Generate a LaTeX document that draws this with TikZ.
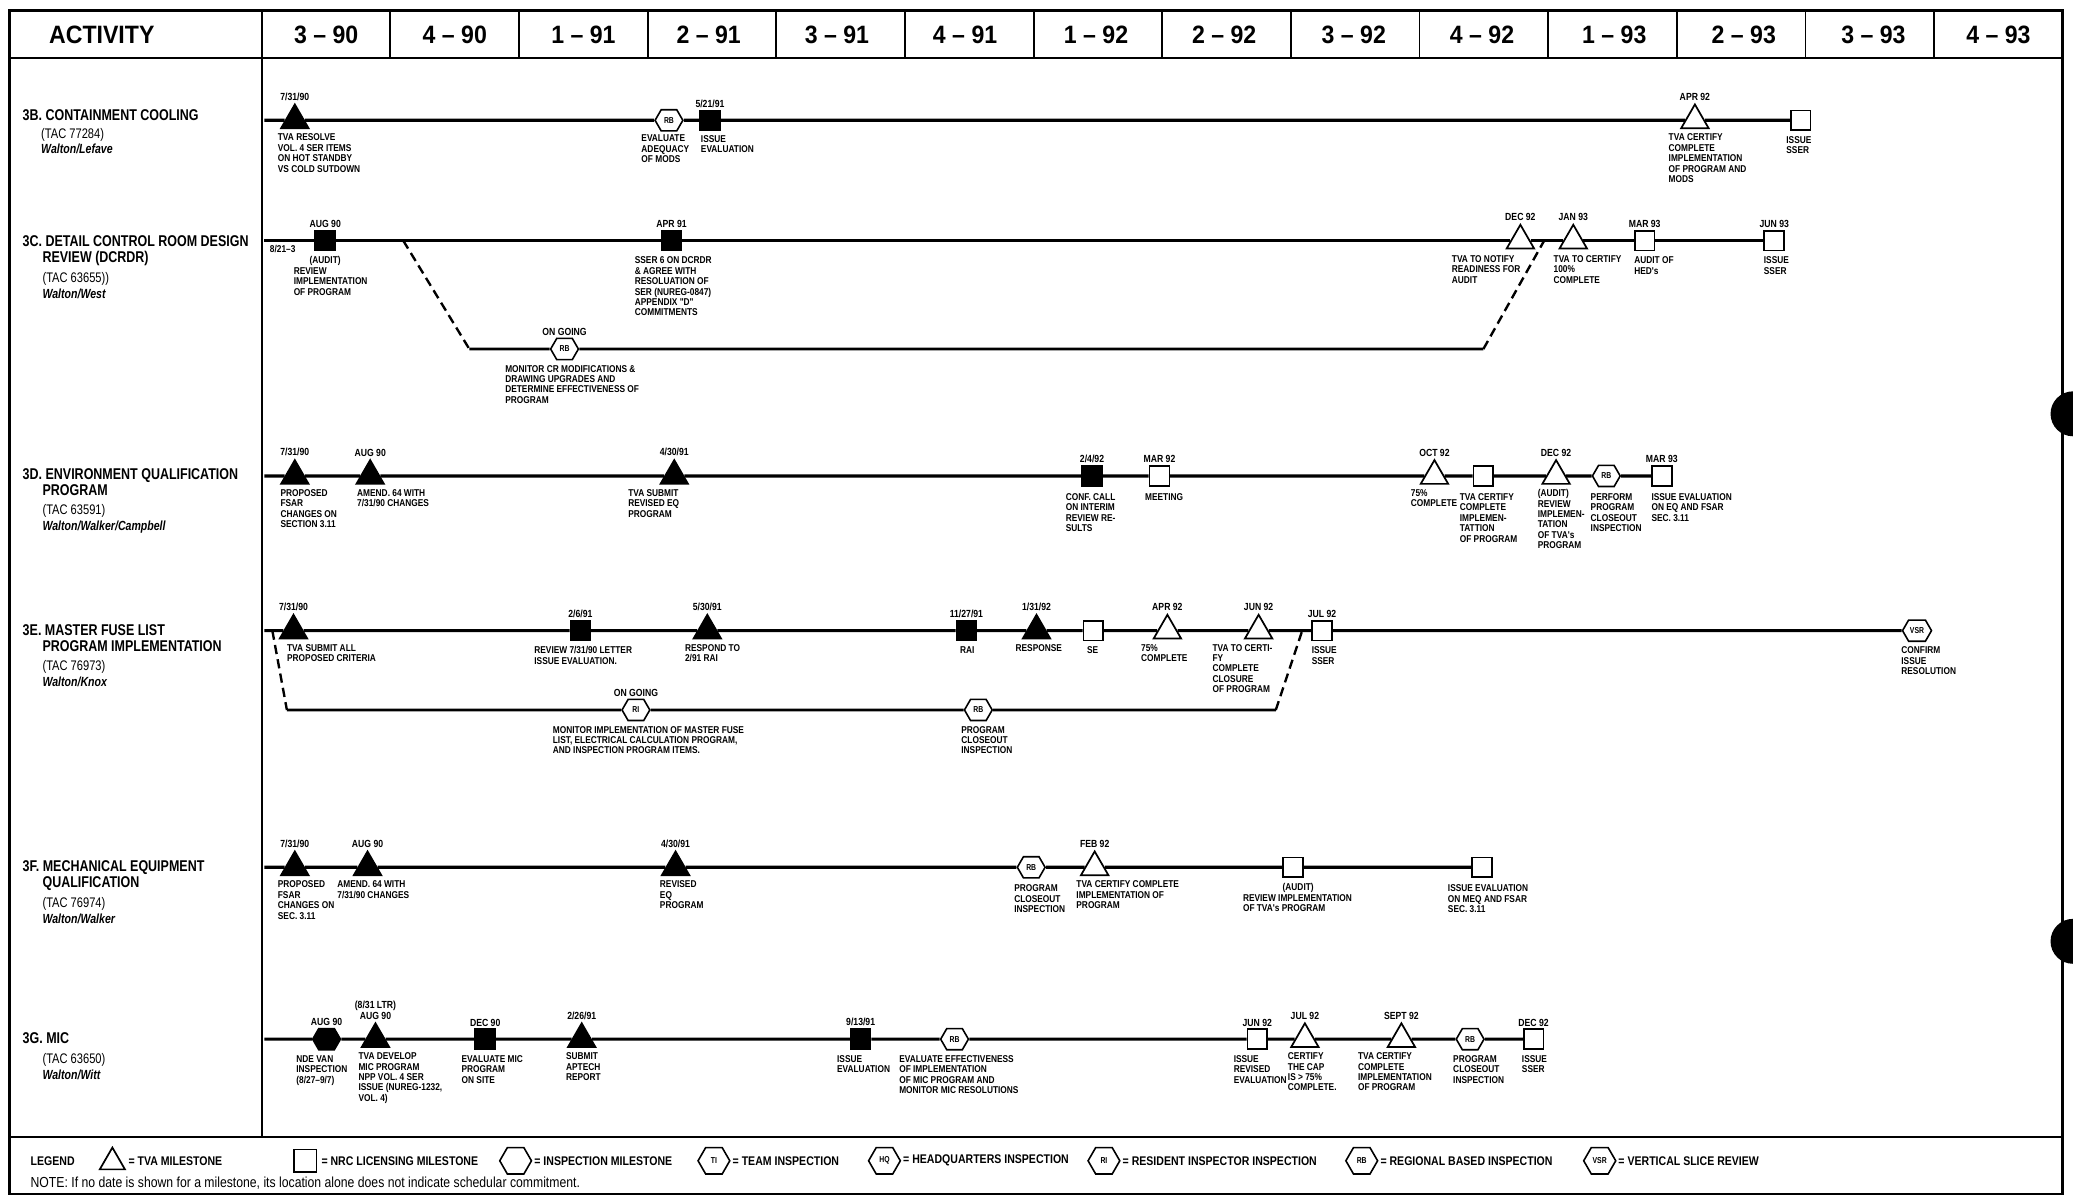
\documentclass[tikz,border=0pt]{standalone}
\usepackage{fontspec}
\setmainfont{Liberation Sans}
\newfontfamily\condf[FakeStretch=0.8]{Liberation Sans}
\newfontfamily\condl[FakeStretch=0.84]{Liberation Sans}
\newfontfamily\condh[FakeStretch=0.92]{Liberation Sans}
\usetikzlibrary{shapes.geometric,shapes.symbols,positioning}

\newcommand\lblfont{\condl\bfseries\fontsize{7.5}{7.9}\selectfont}
\newcommand\dtefont{\condl\bfseries\fontsize{7.8}{8.4}\selectfont}
\newcommand\hexfont{\condf\bfseries\fontsize{6.5}{7}\selectfont}
\newcommand\hdrfont{\condh\bfseries\fontsize{19}{22}\selectfont}
\newcommand\ttlfont{\condf\bfseries\fontsize{11.8}{12}\selectfont}
\newcommand\tacfont{\condf\fontsize{10.5}{12}\selectfont}
\newcommand\whofont{\condf\bfseries\itshape\fontsize{10}{12}\selectfont}
\newcommand\lgdfont{\condl\bfseries\fontsize{9.5}{10}\selectfont}
\newcommand\notefont{\condl\fontsize{11}{12}\selectfont}

\tikzset{
  tva/.style={regular polygon, regular polygon sides=3, draw, line width=1.3pt,
    fill=white, minimum size=24pt, inner sep=0pt},
  tvaf/.style={tva, fill=black},
  nrc/.style={rectangle, draw, line width=1.3pt, fill=white, minimum size=15pt, inner sep=0pt},
  nrcf/.style={nrc, fill=black},
  insp/.style={signal, signal to=east and west, signal pointer angle=120, draw,
    line width=1.2pt, fill=white, minimum width=21pt, minimum height=16pt,
    inner sep=1pt, font=\hexfont},
  bighex/.style={insp, minimum width=24pt, minimum height=20pt},
  dte/.style={font=\dtefont, inner sep=1.5pt},
  lbl/.style={font=\lblfont, align=left, anchor=north west, inner sep=0pt},
  hdr/.style={font=\hdrfont, inner sep=0pt},
  ttl/.style={font=\tacfont, align=left, anchor=north west, inner sep=0pt},
  lgd/.style={font=\lgdfont, anchor=west, inner sep=0pt},
  tline/.style={line width=2.4pt},
  dline/.style={line width=1.8pt, dash pattern=on 7pt off 4pt},
}

\begin{document}
\begin{tikzpicture}[x=1pt, y=-1pt]
  \useasboundingbox (0,0) rectangle (1568,905);

  % table frame
  \draw[line width=2pt] (7,8) rectangle (1560,903);
  \draw[line width=1.6pt] (7,44) -- (1560,44);
  \draw[line width=1.6pt] (7,860) -- (1560,860);
  \draw[line width=1.6pt] (198,8) -- (198,860);
  \draw[line width=1.4pt] (295.3,8) -- (295.3,44) (392.6,8) -- (392.6,44)
    (489.9,8) -- (489.9,44) (587.2,8) -- (587.2,44) (684.5,8) -- (684.5,44)
    (781.8,8) -- (781.8,44) (879.1,8) -- (879.1,44) (976.4,8) -- (976.4,44)
    (1073.7,8) -- (1073.7,44) (1171,8) -- (1171,44) (1268.3,8) -- (1268.3,44)
    (1365.6,8) -- (1365.6,44) (1462.9,8) -- (1462.9,44);
  \fill (1568,313) circle (17);
  \fill (1568,712) circle (17);

  % header
  \node[hdr] (act) at (77,26) {ACTIVITY};
  \node[hdr] (p390) at (246.7,26) {3 \textendash\ 90};
  \node[hdr] (p490) at (344,26) {4 \textendash\ 90};
  \node[hdr] (p191) at (441.3,26) {1 \textendash\ 91};
  \node[hdr] (p291) at (536,26) {2 \textendash\ 91};
  \node[hdr] (p391) at (633,26) {3 \textendash\ 91};
  \node[hdr] (p491) at (730,26) {4 \textendash\ 91};
  \node[hdr] (p192) at (829,26) {1 \textendash\ 92};
  \node[hdr] (p292) at (926,26) {2 \textendash\ 92};
  \node[hdr] (p392) at (1024,26) {3 \textendash\ 92};
  \node[hdr] (p492) at (1121,26) {4 \textendash\ 92};
  \node[hdr] (p193) at (1221,26) {1 \textendash\ 93};
  \node[hdr] (p293) at (1319,26) {2 \textendash\ 93};
  \node[hdr] (p393) at (1417,26) {3 \textendash\ 93};
  \node[hdr] (p493) at (1511.6,26) {4 \textendash\ 93};

  % 3B
  \node[ttl] (a3b) at (17,83) {{\ttlfont 3B. CONTAINMENT COOLING}\\[1pt]
    \hspace*{14pt}(TAC 77284)\\{\whofont\hspace*{14pt}Walton/Lefave}};
  \coordinate (s3b) at (200,91);
  \node[tvaf, label={[dte]above:7/31/90}] (b1) at (223,91) {};
  \node[lbl] (lb1) at (210,101) {TVA RESOLVE\\VOL. 4 SER ITEMS\\ON HOT STANDBY\\VS COLD SUTDOWN};
  \node[insp] (b2) at (506,91) {RB};
  \node[lbl] (lb2) at (485,102) {EVALUATE\\ADEQUACY\\OF MODS};
  \node[nrcf, label={[dte]above:5/21/91}] (b3) at (537,91) {};
  \node[lbl] (lb3) at (530,102) {ISSUE\\EVALUATION};
  \node[tva, label={[dte]above:APR 92}] (b4) at (1282,91) {};
  \node[lbl] (lb4) at (1262,101) {TVA CERTIFY\\COMPLETE\\IMPLEMENTATION\\OF PROGRAM AND\\MODS};
  \node[nrc] (b5) at (1362,91) {};
  \node[lbl] (lb5) at (1351,103) {ISSUE\\SSER};
  \draw[tline] (s3b) -- (b1) -- (b2) -- (b3) -- (b4) -- (b5);

  % 3C
  \node[ttl] (a3c) at (17,178) {{\ttlfont 3C. DETAIL CONTROL ROOM DESIGN}\\
    {\ttlfont\hspace*{15pt}REVIEW (DCRDR)}\\[3pt]
    \hspace*{15pt}(TAC 63655))\\{\whofont\hspace*{15pt}Walton/West}};
  \coordinate (s3c) at (200,182);
  \node[font=\lblfont, anchor=west, inner sep=0pt] (c0) at (204,188) {8/21\textendash3};
  \node[nrcf, label={[dte]above:AUG 90}] (c1) at (246,182) {};
  \node[lbl] (lc1) at (222,194) {\hspace*{12pt}(AUDIT)\\REVIEW\\IMPLEMENTATION\\OF PROGRAM};
  \node[nrcf, label={[dte]above:APR 91}] (c2) at (508,182) {};
  \node[lbl] (lc2) at (480,194) {SSER 6 ON DCRDR\\\& AGREE WITH\\RESOLUATION OF\\SER (NUREG-0847)\\APPENDIX "D"\\COMMITMENTS};
  \node[tva, label={[dte]above:DEC 92}] (c3) at (1150,182) {};
  \node[lbl] (lc3) at (1098,193) {TVA TO NOTIFY\\READINESS FOR\\AUDIT};
  \node[tva, label={[dte]above:JAN 93}] (c4) at (1190,182) {};
  \node[lbl] (lc4) at (1175,193) {TVA TO CERTIFY\\100\%\\COMPLETE};
  \node[nrc, label={[dte]above:MAR 93}] (c5) at (1244,182) {};
  \node[lbl] (lc5) at (1236,194) {AUDIT OF\\HED's};
  \node[nrc, label={[dte]above:JUN 93}] (c6) at (1342,182) {};
  \node[lbl] (lc6) at (1334,194) {ISSUE\\SSER};
  \draw[tline] (s3c) -- (c1) -- (c2) -- (c3) -- (c4) -- (c5) -- (c6);
  \coordinate (k3c1) at (305,182);
  \coordinate (k3c2) at (355,264);
  \coordinate (k3c3) at (1122,264);
  \coordinate (k3c4) at (1168,182);
  \node[insp, label={[dte]above:ON GOING}] (c7) at (427,264) {RB};
  \node[lbl] (lc7) at (382,276) {MONITOR CR MODIFICATIONS \&\\DRAWING UPGRADES AND\\DETERMINE EFFECTIVENESS OF\\PROGRAM};
  \draw[dline] (k3c1) -- (k3c2);
  \draw[line width=2pt] (k3c2) -- (c7) -- (k3c3);
  \draw[dline] (k3c3) -- (k3c4);

  % 3D
  \node[ttl] (a3d) at (17,354) {{\ttlfont 3D. ENVIRONMENT QUALIFICATION}\\
    {\ttlfont\hspace*{15pt}PROGRAM}\\[3pt]
    \hspace*{15pt}(TAC 63591)\\{\whofont\hspace*{15pt}Walton/Walker/Campbell}};
  \coordinate (s3d) at (200,360);
  \node[tvaf, label={[dte]above:7/31/90}] (d1) at (223,360) {};
  \node[lbl] (ld1) at (212,370) {PROPOSED\\FSAR\\CHANGES ON\\SECTION 3.11};
  \node[tvaf, label={[dte]above:AUG 90}] (d2) at (280,360) {};
  \node[lbl] (ld2) at (270,370) {AMEND. 64 WITH\\7/31/90 CHANGES};
  \node[tvaf, label={[dte]above:4/30/91}] (d3) at (510,360) {};
  \node[lbl] (ld3) at (475,370) {TVA SUBMIT\\REVISED EQ\\PROGRAM};
  \node[nrcf, label={[dte]above:2/4/92}] (d4) at (826,360) {};
  \node[lbl] (ld4) at (806,373) {CONF. CALL\\ON INTERIM\\REVIEW RE-\\SULTS};
  \node[nrc, label={[dte]above:MAR 92}] (d5) at (877,360) {};
  \node[lbl] (ld5) at (866,373) {MEETING};
  \node[tva, label={[dte]above:OCT 92}] (d6) at (1085,360) {};
  \node[lbl] (ld6) at (1067,370) {75\%\\COMPLETE};
  \node[nrc] (d7) at (1122,360) {};
  \node[lbl] (ld7) at (1104,373) {TVA CERTIFY\\COMPLETE\\IMPLEMEN-\\TATTION\\OF PROGRAM};
  \node[tva, label={[dte]above:DEC 92}] (d8) at (1177,360) {};
  \node[lbl] (ld8) at (1163,370) {(AUDIT)\\REVIEW\\IMPLEMEN-\\TATION\\OF TVA's\\PROGRAM};
  \node[insp] (d9) at (1215,360) {RB};
  \node[lbl] (ld9) at (1203,373) {PERFORM\\PROGRAM\\CLOSEOUT\\INSPECTION};
  \node[nrc, label={[dte]above:MAR 93}] (d10) at (1257,360) {};
  \node[lbl] (ld10) at (1249,373) {ISSUE EVALUATION\\ON EQ AND FSAR\\SEC. 3.11};
  \draw[tline] (s3d) -- (d1) -- (d2) -- (d3) -- (d4) -- (d5) -- (d6) -- (d7)
    -- (d8) -- (d9) -- (d10);

  % 3E
  \node[ttl] (a3e) at (17,472) {{\ttlfont 3E. MASTER FUSE LIST}\\
    {\ttlfont\hspace*{15pt}PROGRAM IMPLEMENTATION}\\[3pt]
    \hspace*{15pt}(TAC 76973)\\{\whofont\hspace*{15pt}Walton/Knox}};
  \coordinate (s3e) at (200,477);
  \node[tvaf, label={[dte]above:7/31/90}] (e1) at (222,477) {};
  \node[lbl] (le1) at (217,487) {TVA SUBMIT ALL\\PROPOSED CRITERIA};
  \node[nrcf, label={[dte]above:2/6/91}] (e2) at (439,477) {};
  \node[lbl] (le2) at (404,489) {REVIEW 7/31/90 LETTER\\ISSUE EVALUATION.};
  \node[tvaf, label={[dte]above:5/30/91}] (e3) at (535,477) {};
  \node[lbl] (le3) at (518,487) {RESPOND TO\\2/91 RAI};
  \node[nrcf, label={[dte]above:11/27/91}] (e4) at (731,477) {};
  \node[lbl] (le4) at (726,489) {RAI};
  \node[tvaf, label={[dte]above:1/31/92}] (e5) at (784,477) {};
  \node[lbl] (le5) at (768,487) {RESPONSE};
  \node[nrc] (e6) at (827,477) {};
  \node[lbl] (le6) at (822,489) {SE};
  \node[tva, label={[dte]above:APR 92}] (e7) at (883,477) {};
  \node[lbl] (le7) at (863,487) {75\%\\COMPLETE};
  \node[tva, label={[dte]above:JUN 92}] (e8) at (952,477) {};
  \node[lbl] (le8) at (917,487) {TVA TO CERTI-\\FY\\COMPLETE\\CLOSURE\\OF PROGRAM};
  \node[nrc, label={[dte]above:JUL 92}] (e9) at (1000,477) {};
  \node[lbl] (le9) at (992,489) {ISSUE\\SSER};
  \node[insp] (e10) at (1450,477) {VSR};
  \node[lbl] (le10) at (1438,489) {CONFIRM\\ISSUE\\RESOLUTION};
  \draw[tline] (s3e) -- (e1) -- (e2) -- (e3) -- (e4) -- (e5) -- (e6) -- (e7)
    -- (e8) -- (e9) -- (e10);
  \coordinate (k3e1) at (206,477);
  \coordinate (k3e2) at (217,537);
  \coordinate (k3e3) at (965,537);
  \coordinate (k3e4) at (985,477);
  \node[insp, label={[dte]above:ON GOING}] (e11) at (481,537) {RI};
  \node[lbl] (le11) at (418,549) {MONITOR IMPLEMENTATION OF MASTER FUSE\\LIST, ELECTRICAL CALCULATION PROGRAM,\\AND INSPECTION PROGRAM ITEMS.};
  \node[insp] (e12) at (740,537) {RB};
  \node[lbl] (le12) at (727,549) {PROGRAM\\CLOSEOUT\\INSPECTION};
  \draw[dline] (k3e1) -- (k3e2);
  \draw[line width=2pt] (k3e2) -- (e11) -- (e12) -- (k3e3);
  \draw[dline] (k3e3) -- (k3e4);

  % 3F
  \node[ttl] (a3f) at (17,651) {{\ttlfont 3F. MECHANICAL EQUIPMENT}\\
    {\ttlfont\hspace*{15pt}QUALIFICATION}\\[3pt]
    \hspace*{15pt}(TAC 76974)\\{\whofont\hspace*{15pt}Walton/Walker}};
  \coordinate (s3f) at (200,656);
  \node[tvaf, label={[dte]above:7/31/90}] (f1) at (223,656) {};
  \node[lbl] (lf1) at (210,666) {PROPOSED\\FSAR\\CHANGES ON\\SEC. 3.11};
  \node[tvaf, label={[dte]above:AUG 90}] (f2) at (278,656) {};
  \node[lbl] (lf2) at (255,666) {AMEND. 64 WITH\\7/31/90 CHANGES};
  \node[tvaf, label={[dte]above:4/30/91}] (f3) at (511,656) {};
  \node[lbl] (lf3) at (499,666) {REVISED\\EQ\\PROGRAM};
  \node[insp] (f4) at (780,656) {RB};
  \node[lbl] (lf4) at (767,669) {PROGRAM\\CLOSEOUT\\INSPECTION};
  \node[tva, label={[dte]above:FEB 92}] (f5) at (828,656) {};
  \node[lbl] (lf5) at (814,666) {TVA CERTIFY COMPLETE\\IMPLEMENTATION OF\\PROGRAM};
  \node[nrc] (f6) at (978,656) {};
  \node[lbl] (lf6) at (940,668) {\hspace*{30pt}(AUDIT)\\REVIEW IMPLEMENTATION\\OF TVA's PROGRAM};
  \node[nrc] (f7) at (1121,656) {};
  \node[lbl] (lf7) at (1095,669) {ISSUE EVALUATION\\ON MEQ AND FSAR\\SEC. 3.11};
  \draw[tline] (s3f) -- (f1) -- (f2) -- (f3) -- (f4) -- (f5) -- (f6) -- (f7);

  % 3G
  \node[ttl] (a3g) at (17,781) {{\ttlfont 3G. MIC}\\[3pt]
    \hspace*{15pt}(TAC 63650)\\{\whofont\hspace*{15pt}Walton/Witt}};
  \coordinate (s3g) at (200,786);
  \node[insp, fill=black, label={[dte]above:AUG 90}] (g1) at (247,786) {};
  \node[lbl] (lg1) at (224,798) {NDE VAN\\INSPECTION\\(8/27\textendash9/7)};
  \node[tvaf, label={[dte, align=center]above:{(8/31 LTR)\\AUG 90}}] (g2) at (284,786) {};
  \node[lbl] (lg2) at (271,796) {TVA DEVELOP\\MIC PROGRAM\\NPP VOL. 4 SER\\ISSUE (NUREG-1232,\\VOL. 4)};
  \node[nrcf, label={[dte]above:DEC 90}] (g3) at (367,786) {};
  \node[lbl] (lg3) at (349,798) {EVALUATE MIC\\PROGRAM\\ON SITE};
  \node[tvaf, label={[dte]above:2/26/91}] (g4) at (440,786) {};
  \node[lbl] (lg4) at (428,796) {SUBMIT\\APTECH\\REPORT};
  \node[nrcf, label={[dte]above:9/13/91}] (g5) at (651,786) {};
  \node[lbl] (lg5) at (633,798) {ISSUE\\EVALUATION};
  \node[insp] (g6) at (722,786) {RB};
  \node[lbl] (lg6) at (680,798) {EVALUATE EFFECTIVENESS\\OF IMPLEMENTATION\\OF MIC PROGRAM AND\\MONITOR MIC RESOLUTIONS};
  \node[nrc, label={[dte]above:JUN 92}] (g7) at (951,786) {};
  \node[lbl] (lg7) at (933,798) {ISSUE\\REVISED\\EVALUATION};
  \node[tva, label={[dte]above:JUL 92}] (g8) at (987,786) {};
  \node[lbl] (lg8) at (974,796) {CERTIFY\\THE CAP\\IS > 75\%\\COMPLETE.};
  \node[tva, label={[dte]above:SEPT 92}] (g9) at (1060,786) {};
  \node[lbl] (lg9) at (1027,796) {TVA CERTIFY\\COMPLETE\\IMPLEMENTATION\\OF PROGRAM};
  \node[insp] (g10) at (1112,786) {RB};
  \node[lbl] (lg10) at (1099,798) {PROGRAM\\CLOSEOUT\\INSPECTION};
  \node[nrc, label={[dte]above:DEC 92}] (g11) at (1160,786) {};
  \node[lbl] (lg11) at (1151,798) {ISSUE\\SSER};
  \draw[tline] (s3g) -- (g1) -- (g2) -- (g3) -- (g4) -- (g5) -- (g6) -- (g7)
    -- (g8) -- (g9) -- (g10) -- (g11);

  % legend
  \node[lgd] (lgd) at (23,878) {LEGEND};
  \node[tva, minimum size=22pt] (y1) at (85,879) {};
  \node[lgd] (z1) at (97,878) {= TVA MILESTONE};
  \node[nrc, minimum size=17pt] (y2) at (231,878) {};
  \node[lgd] (z2) at (243,878) {= NRC LICENSING MILESTONE};
  \node[bighex] (y3) at (390,878) {};
  \node[lgd] (z3) at (404,878) {= INSPECTION MILESTONE};
  \node[bighex] (y4) at (540,878) {TI};
  \node[lgd] (z4) at (554,878) {= TEAM INSPECTION};
  \node[bighex] (y5) at (669,878) {HQ};
  \node[lgd] (z5) at (683,878) {= HEADQUARTERS INSPECTION};
  \node[bighex] (y6) at (835,878) {RI};
  \node[lgd] (z6) at (849,878) {= RESIDENT INSPECTOR INSPECTION};
  \node[bighex] (y7) at (1030,878) {RB};
  \node[lgd] (z7) at (1044,878) {= REGIONAL BASED INSPECTION};
  \node[bighex] (y8) at (1210,878) {VSR};
  \node[lgd] (z8) at (1224,878) {= VERTICAL SLICE REVIEW};
  \node[font=\notefont, anchor=west, inner sep=0pt] (note) at (23,895)
    {NOTE: If no date is shown for a milestone, its location alone does not indicate schedular commitment.};
\end{tikzpicture}
\end{document}
